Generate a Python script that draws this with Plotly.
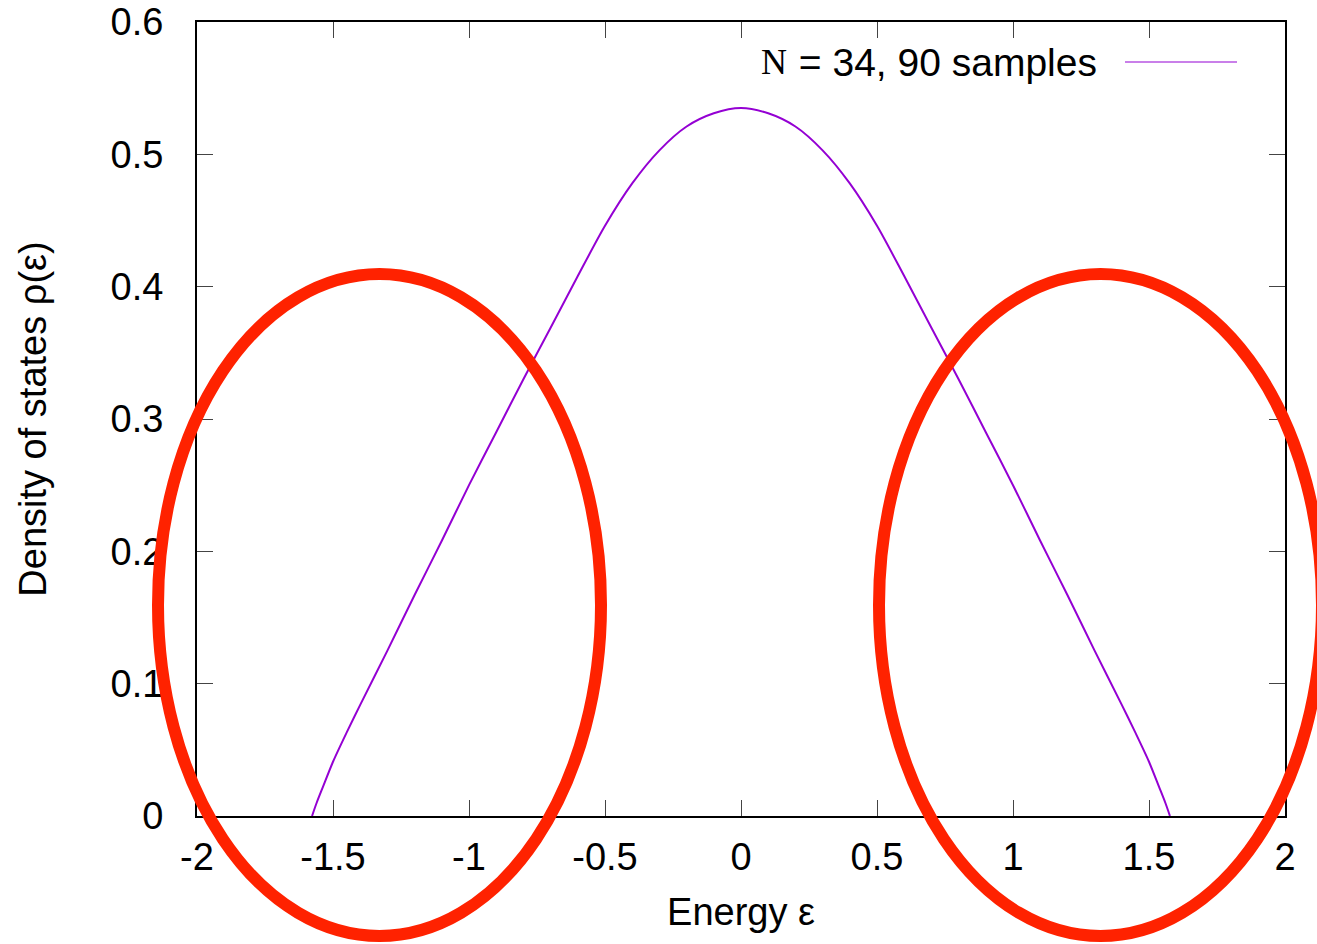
import plotly.graph_objects as go

# Data
energy = [-1.577, -1.56, -1.537, -1.5, -1.45, -1.4, -1.3, -1.2, -1.1, -1.0,
          -0.9, -0.8, -0.7, -0.6, -0.5, -0.4, -0.3, -0.2, -0.1, 0.0,
          0.1, 0.2, 0.3, 0.4, 0.5, 0.6, 0.7, 0.8, 0.9, 1.0,
          1.1, 1.2, 1.3, 1.4, 1.45, 1.5, 1.537, 1.56, 1.577]
density = [0.0, 0.010, 0.022, 0.041, 0.063, 0.084, 0.125, 0.167, 0.208, 0.250,
           0.290, 0.330, 0.369, 0.408, 0.446, 0.478, 0.503, 0.521, 0.531, 0.535,
           0.531, 0.521, 0.503, 0.478, 0.446, 0.408, 0.369, 0.330, 0.290, 0.250,
           0.208, 0.167, 0.125, 0.084, 0.063, 0.041, 0.022, 0.010, 0.0]
x_ticks = [-2, -1.5, -1, -0.5, 0, 0.5, 1, 1.5, 2]
x_tick_labels = ["-2", "-1.5", "-1", "-0.5", "0", "0.5", "1", "1.5", "2"]
y_ticks = [0, 0.1, 0.2, 0.3, 0.4, 0.5, 0.6]
y_tick_labels = ["0", "0.1", "0.2", "0.3", "0.4", "0.5", "0.6"]
legend_symbol = "N"
legend_rest = " = 34, 90 samples"

CURVE = "#9400D3"
RED = "#FF2200"
FONT = "Liberation Sans"
FS = 38

fig = go.Figure()
fig.add_trace(go.Scatter(
    x=energy, y=density, mode="lines",
    line=dict(color=CURVE, width=2, shape="spline", smoothing=0.8),
    showlegend=False,
))

axis_common = dict(
    showline=True, linecolor="black", linewidth=2, mirror="ticks",
    ticks="inside", ticklen=16, tickwidth=1, tickcolor="#444444",
    showgrid=False, zeroline=False, automargin=False,
    tickfont=dict(family=FONT, size=FS, color="black"),
)

fig.update_xaxes(
    range=[-2, 2], tickvals=x_ticks, ticktext=x_tick_labels,
    title=dict(text="Energy ε", font=dict(family=FONT, size=FS, color="black"), standoff=22),
    ticklabelstandoff=6,
    **axis_common,
)
fig.update_yaxes(
    range=[0, 0.6], tickvals=y_ticks, ticktext=y_tick_labels,
    title=dict(text="Density of states ρ(ε)", font=dict(family=FONT, size=FS, color="black"), standoff=52),
    ticklabelstandoff=24,
    **axis_common,
)

# legend (gnuplot style: text then sample line)
ly = (816 - 62) / 794
fig.add_annotation(
    xref="paper", yref="paper", x=(1099 - 197) / 1088, y=ly,
    xanchor="right", yanchor="middle", showarrow=False,
    text=legend_rest, font=dict(family=FONT, size=39, color="black"),
)
fig.add_annotation(
    xref="paper", yref="paper", x=(789 - 197) / 1088, y=ly,
    xanchor="right", yanchor="middle", showarrow=False,
    text=legend_symbol, font=dict(family="Liberation Serif", size=36, color="black"),
)
fig.add_shape(type="line", xref="paper", yref="paper",
              x0=(1125 - 197) / 1088, x1=(1237 - 197) / 1088,
              y0=ly, y1=ly,
              line=dict(color=CURVE, width=1.2))

# red ellipse annotations
for x0, x1 in [((158 - 197) / 1088, (601 - 197) / 1088),
               ((879 - 197) / 1088, (1322 - 197) / 1088)]:
    fig.add_shape(type="circle", xref="paper", yref="paper",
                  x0=x0, x1=x1, y0=(816 - 936) / 794, y1=(816 - 274) / 794,
                  line=dict(color=RED, width=12), layer="above")

fig.update_layout(
    width=1317, height=944,
    margin=dict(l=197, r=32, t=22, b=128),
    paper_bgcolor="white", plot_bgcolor="white",
    font=dict(family=FONT, color="black"),
)

fig.write_html("out.html", config={"displayModeBar": False},
               post_script="document.body.style.margin='0';")
